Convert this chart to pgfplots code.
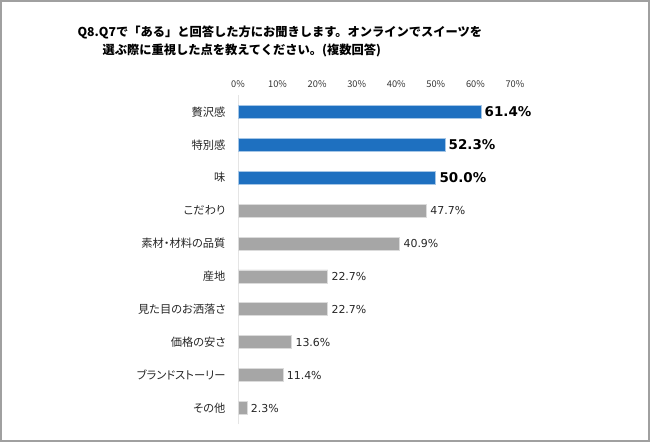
\documentclass[border=0pt]{standalone}
\usepackage{fontspec}
\setmainfont{Noto Sans CJK JP}
\newfontfamily\catfont[RawFeature=+palt]{Noto Sans CJK JP}
\newfontfamily\numfont{DejaVu Sans}
\usepackage{pgfplots}
\pgfplotsset{compat=1.18}
\definecolor{barblue}{RGB}{30,112,192}
\definecolor{bargray}{RGB}{166,166,166}
\definecolor{framegray}{RGB}{160,160,160}
\begin{document}
\begin{tikzpicture}[x=1bp,y=1bp]
\path[use as bounding box] (0,0) rectangle (650,442);
\draw[framegray,line width=1.6bp] (1,1) rectangle (649,441);
\node[anchor=west,font=\bfseries\fontsize{12.3}{14}\selectfont] at (74,410) {Q8.Q7で「ある」と回答した方にお聞きします。オンラインでスイーツを};
\node[anchor=west,font=\bfseries\fontsize{12.3}{14}\selectfont] at (99,392) {選ぶ際に重視した点を教えてください。(複数回答)};
\begin{axis}[
  at={(238bp,17.5bp)}, anchor=south west,
  scale only axis, width=277bp, height=329bp,
  xbar, bar width=13bp, bar shift=0pt,
  xmin=0, xmax=70, ymin=-0.5, ymax=9.5,
  xtick={0,10,...,70},
  xticklabel={\pgfmathprintnumber{\tick}\%},
  /pgf/number format/assume math mode=true,
  xticklabel pos=top,
  xticklabel style={font=\fontsize{9.3}{10}\selectfont, text=black!80, yshift=4bp},
  x axis line style={draw=none},
  axis x line*=top,
  axis y line*=left,
  y axis line style={draw=black!10, line width=0.8bp},
  ytick={0,...,9},
  yticklabels={その他,ブランドストーリー,価格の安さ,見た目のお洒落さ,産地,素材・材料の品質,こだわり,味,特別感,贅沢感},
  yticklabel style={font=\catfont\fontsize{11.3}{13}\selectfont, text=black!85, xshift=-9bp},
  tick style={draw=none},
  major tick length=0pt,
  clip=false,
]
\addplot[fill=barblue, draw=barblue!40, line width=0.8bp,
  nodes near coords={\pgfmathprintnumber[fixed,fixed zerofill,precision=1]{\pgfplotspointmeta}\%},
  nodes near coords style={font=\numfont\bfseries\fontsize{13.5}{15}\selectfont, text=black, anchor=west, xshift=0bp}]
  coordinates {(61.4,9) (52.3,8) (50.0,7)};
\addplot[fill=bargray, draw=bargray!40, line width=0.8bp,
  nodes near coords={\pgfmathprintnumber[fixed,fixed zerofill,precision=1]{\pgfplotspointmeta}\%},
  nodes near coords style={font=\numfont\fontsize{11}{12}\selectfont, text=black!85, anchor=west, xshift=0bp}]
  coordinates {(47.7,6) (40.9,5) (22.7,4) (22.7,3) (13.6,2) (11.4,1) (2.3,0)};
\end{axis}
\end{tikzpicture}
\end{document}
